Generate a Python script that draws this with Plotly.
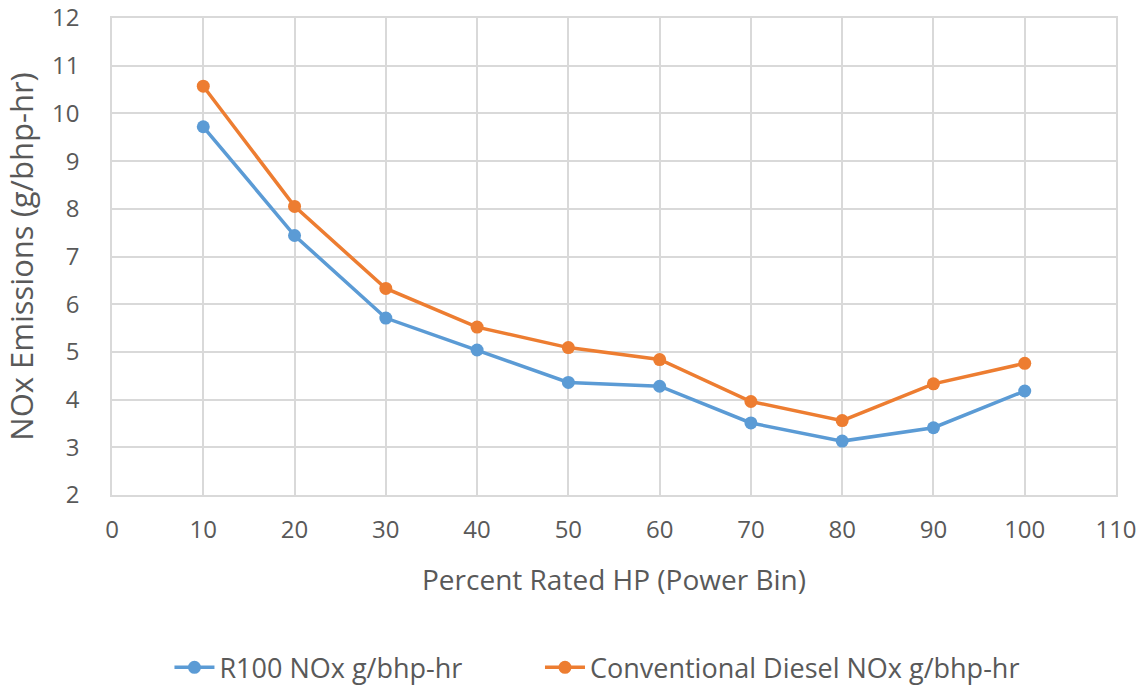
import plotly.graph_objects as go

# Percent of rated horsepower (power bins)
power_bin = [10, 20, 30, 40, 50, 60, 70, 80, 90, 100]

# NOx emissions, g/bhp-hr
r100_nox = [9.72, 7.44, 5.71, 5.04, 4.36, 4.28, 3.51, 3.13, 3.41, 4.18]
diesel_nox = [10.57, 8.05, 6.33, 5.52, 5.09, 4.84, 3.96, 3.56, 4.33, 4.76]

series_names = ["R100 NOx g/bhp-hr", "Conventional Diesel NOx g/bhp-hr"]
series_colors = ["#5B9BD5", "#ED7D31"]
legend_ids = ["legend", "legend2"]
legend_x = [0.148, 0.4716]

x_ticks = list(range(0, 111, 10))
y_ticks = list(range(2, 13))

font_family = "'Open Sans', sans-serif"
text_color = "#595959"
grid_color = "#D9D9D9"

fig = go.Figure()
for name, values, color, lg in zip(series_names, [r100_nox, diesel_nox], series_colors, legend_ids):
    fig.add_trace(go.Scatter(
        x=power_bin, y=values, name=name, mode="lines+markers",
        line=dict(color=color, width=3.5),
        marker=dict(color=color, size=13),
        legend=lg,
    ))


def legend_box(x):
    return dict(
        orientation="h", xref="container", yref="container",
        x=x, xanchor="left", y=0.028, yanchor="middle",
        font=dict(size=27, color=text_color), itemwidth=40,
        bgcolor="rgba(0,0,0,0)",
    )


fig.update_layout(
    width=1145, height=687,
    margin=dict(l=112, r=29, t=18, b=192),
    paper_bgcolor="white", plot_bgcolor="white",
    font=dict(family=font_family, color=text_color, size=24),
    showlegend=True,
    legend=legend_box(legend_x[0]),
    legend2=legend_box(legend_x[1]),
)

fig.update_xaxes(
    range=[0, 110], tickvals=x_ticks, ticktext=[str(t) for t in x_ticks],
    showgrid=True, gridcolor=grid_color, gridwidth=1.5,
    showline=True, linecolor=grid_color, linewidth=1.5, mirror=True,
    zeroline=False, ticks="", ticklabelstandoff=12, automargin=False,
    tickfont=dict(size=24, color=text_color),
    title=dict(text="Percent Rated HP (Power Bin)", font=dict(size=28, color=text_color), standoff=27),
)
fig.update_yaxes(
    range=[2, 12], tickvals=y_ticks, ticktext=[str(t) for t in y_ticks],
    showgrid=True, gridcolor=grid_color, gridwidth=1.5,
    showline=True, linecolor=grid_color, linewidth=1.5, mirror=True,
    zeroline=False, ticks="", ticklabelstandoff=26, automargin=False,
    tickfont=dict(size=24, color=text_color),
    title=dict(text="NOx Emissions (g/bhp-hr)", font=dict(size=31, color=text_color), standoff=12),
)

fig.write_html("out.html")
